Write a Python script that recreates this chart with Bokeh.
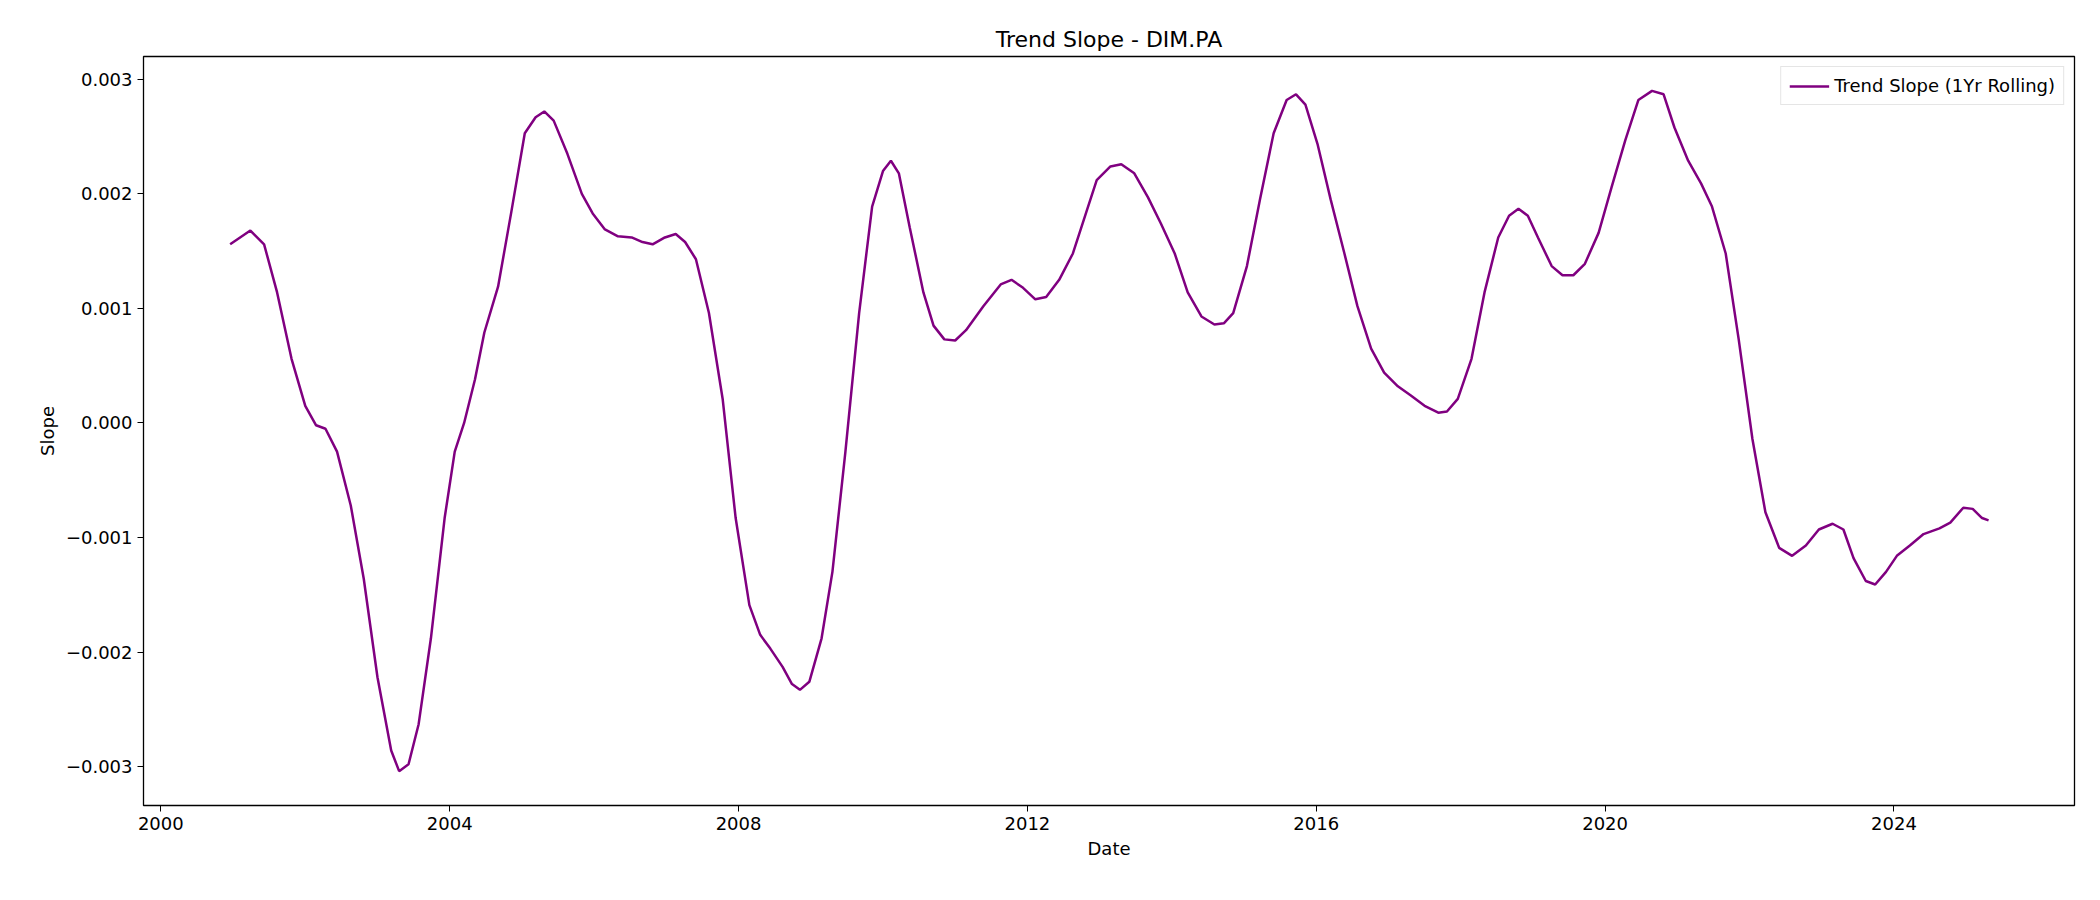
from bokeh.plotting import figure
from bokeh.models import Range1d, FixedTicker, Legend, LegendItem
from bokeh.embed import file_html
from bokeh.resources import INLINE

years = [2000.96, 2001.24, 2001.43, 2001.61, 2001.81, 2002.0, 2002.15, 2002.28, 2002.44, 2002.63,
         2002.81, 2003.0, 2003.19, 2003.30, 2003.43, 2003.57, 2003.74, 2003.93, 2004.07, 2004.20,
         2004.35, 2004.48, 2004.67, 2004.85, 2005.04, 2005.19, 2005.31, 2005.44, 2005.63, 2005.83,
         2005.98, 2006.15, 2006.33, 2006.52, 2006.67, 2006.81, 2006.98, 2007.13, 2007.26, 2007.41,
         2007.59, 2007.78, 2007.96, 2008.15, 2008.30, 2008.44, 2008.61, 2008.74, 2008.85, 2008.98,
         2009.15, 2009.30, 2009.48, 2009.67, 2009.85, 2010.0, 2010.11, 2010.22, 2010.37, 2010.56,
         2010.70, 2010.85, 2011.0, 2011.15, 2011.39, 2011.63, 2011.78, 2011.94, 2012.11, 2012.26,
         2012.44, 2012.63, 2012.81, 2012.96, 2013.15, 2013.30, 2013.48, 2013.67, 2013.85, 2014.04,
         2014.22, 2014.41, 2014.59, 2014.72, 2014.85, 2015.04, 2015.22, 2015.41, 2015.59, 2015.72,
         2015.85, 2016.02, 2016.20, 2016.39, 2016.57, 2016.76, 2016.94, 2017.13, 2017.31, 2017.50,
         2017.69, 2017.81, 2017.96, 2018.15, 2018.33, 2018.52, 2018.67, 2018.80, 2018.93, 2019.07,
         2019.26, 2019.41, 2019.56, 2019.72, 2019.91, 2020.09, 2020.28, 2020.46, 2020.65, 2020.81,
         2020.96, 2021.15, 2021.33, 2021.48, 2021.67, 2021.85, 2022.04, 2022.22, 2022.41, 2022.59,
         2022.78, 2022.96, 2023.15, 2023.30, 2023.44, 2023.61, 2023.74, 2023.89, 2024.04, 2024.22,
         2024.41, 2024.63, 2024.78, 2024.96, 2025.09, 2025.22, 2025.31]

slope = [0.00156, 0.00168, 0.00156, 0.00114, 0.00056, 0.00015, -0.00002, -0.00005, -0.00025, -0.00072,
         -0.00136, -0.00222, -0.00286, -0.00304, -0.00298, -0.00263, -0.00188, -0.00083, -0.00025, 0.0,
         0.00038, 0.00079, 0.00119, 0.00183, 0.00253, 0.00267, 0.00272, 0.00264, 0.00235, 0.00200,
         0.00183, 0.00169, 0.00163, 0.00162, 0.00158, 0.00156, 0.00162, 0.00165, 0.00158, 0.00143,
         0.00096, 0.00021, -0.00083, -0.00159, -0.00185, -0.00197, -0.00213, -0.00228, -0.00233, -0.00226,
         -0.00188, -0.00130, -0.00025, 0.00096, 0.00189, 0.00220, 0.00229, 0.00218, 0.00171, 0.00114,
         0.00085, 0.00073, 0.00072, 0.00081, 0.00102, 0.00121, 0.00125, 0.00118, 0.00108, 0.00110,
         0.00125, 0.00148, 0.00183, 0.00212, 0.00224, 0.00226, 0.00218, 0.00197, 0.00174, 0.00148,
         0.00114, 0.00093, 0.00086, 0.00087, 0.00096, 0.00137, 0.00195, 0.00253, 0.00282, 0.00287,
         0.00278, 0.00243, 0.00195, 0.00148, 0.00102, 0.00065, 0.00044, 0.00032, 0.00024, 0.00015,
         0.00009, 0.00010, 0.00021, 0.00056, 0.00114, 0.00162, 0.00181, 0.00187, 0.00181, 0.00162,
         0.00137, 0.00129, 0.00129, 0.00139, 0.00166, 0.00206, 0.00247, 0.00282, 0.00290, 0.00287,
         0.00258, 0.00229, 0.00209, 0.00189, 0.00148, 0.00073, -0.00014, -0.00078, -0.00109, -0.00116,
         -0.00107, -0.00093, -0.00088, -0.00093, -0.00118, -0.00138, -0.00141, -0.00130, -0.00116, -0.00107,
         -0.00097, -0.00092, -0.00087, -0.00074, -0.00075, -0.00083, -0.00085]

x_ticks = [2000, 2004, 2008, 2012, 2016, 2020, 2024]
y_ticks = [-0.003, -0.002, -0.001, 0.0, 0.001, 0.002, 0.003]

p = figure(width=2084, height=884, output_backend="svg", toolbar_location=None,
           title="Trend Slope - DIM.PA", x_axis_label="Date", y_axis_label="Slope")
p.x_range = Range1d(1999.76, 2026.5)
p.y_range = Range1d(-0.00334, 0.00320)
p.min_border_left = 143
p.min_border_right = 10
p.min_border_top = 56
p.min_border_bottom = 79

r = p.line(years, slope, line_color="#800080", line_width=2.5)

p.xgrid.visible = False
p.ygrid.visible = False
p.outline_line_color = "black"
p.outline_line_width = 1.3

p.title.align = "center"
p.title.text_font = "DejaVu Sans"
p.title.text_font_size = "22px"
p.title.text_font_style = "normal"
p.title.text_color = "black"

for ax in (p.xaxis, p.yaxis):
    ax.axis_label_text_font = "DejaVu Sans"
    ax.axis_label_text_font_size = "18px"
    ax.axis_label_text_font_style = "normal"
    ax.axis_label_text_color = "black"
    ax.major_label_text_font = "DejaVu Sans"
    ax.major_label_text_font_size = "18px"
    ax.major_label_text_color = "black"
    ax.major_tick_line_color = "black"
    ax.minor_tick_line_color = None
    ax.major_tick_in = 0
    ax.major_tick_out = 6
    ax.axis_line_color = None

p.xaxis.ticker = FixedTicker(ticks=x_ticks)
p.yaxis.ticker = FixedTicker(ticks=y_ticks)
p.yaxis.major_label_overrides = {t: ("%.3f" % t).replace("-", "\u2212") for t in y_ticks}
p.xaxis.major_label_overrides = {t: str(t) for t in x_ticks}

legend = Legend(items=[LegendItem(label="Trend Slope (1Yr Rolling)", renderers=[r])],
                location="top_right", label_text_font="DejaVu Sans", label_text_font_size="18px",
                label_text_color="black",
                border_line_color="#cccccc", glyph_width=40, margin=10, padding=8)
p.add_layout(legend)

open("out.html", "w").write(file_html(p, INLINE))
